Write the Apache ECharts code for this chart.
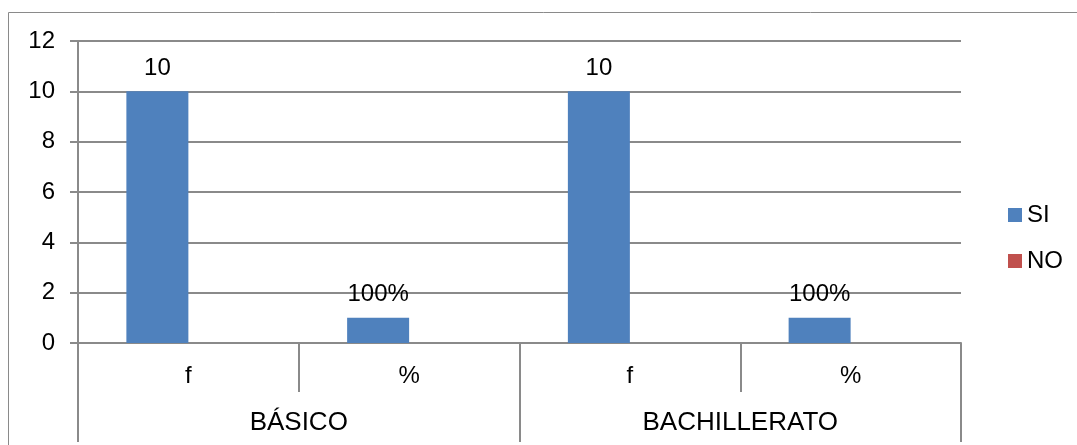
<!DOCTYPE html>
<html>
<head>
<meta charset="utf-8">
<script src="https://cdn.jsdelivr.net/npm/echarts@6/dist/echarts.min.js"></script>
<style>
html,body{margin:0;padding:0;background:#fff;}
#c{width:1077px;height:445px;}
</style>
</head>
<body>
<div id="c"></div>
<script>
var subCategories = ['f', '%', 'f', '%'];
var groupCategories = ['BÁSICO', 'BACHILLERATO'];
var seriesNames = ['SI', 'NO'];
var valuesSI = [10, 1, 10, 1];
var valuesNO = [0, 0, 0, 0];
var labelsSI = ['10', '100%', '10', '100%'];
var yTicks = [0, 2, 4, 6, 8, 10, 12];

var FONT = "'Liberation Sans', Arial, sans-serif";
var FS = 24;
var GRAY = '#8a8a8a';
var chart = echarts.init(document.getElementById('c'), null, {renderer: 'canvas'});
chart.setOption({
  animation: false,
  backgroundColor: '#fff',
  textStyle: {fontFamily: FONT},
  graphic: [{
    type: 'rect', z: 0,
    shape: {x: 8.5, y: 12.5, width: 1200, height: 600},
    style: {fill: 'none', stroke: GRAY, lineWidth: 1}
  }],
  grid: {left: 78, right: 116, top: 41, bottom: 102, containLabel: false},
  legend: {
    orient: 'vertical', left: 1003, top: 198,
    itemWidth: 14, itemHeight: 14, itemGap: 22,
    icon: 'rect',
    textStyle: {fontSize: FS, color: '#000', fontFamily: FONT},
    data: seriesNames
  },
  xAxis: [{
    type: 'category', data: subCategories, position: 'bottom',
    axisLine: {show: true, lineStyle: {color: GRAY, width: 2}},
    axisTick: {show: true, length: 49, interval: 0, lineStyle: {color: GRAY, width: 2}},
    axisLabel: {fontSize: FS, color: '#000', margin: 21, interval: 0, fontFamily: FONT},
    splitLine: {show: false}
  }, {
    type: 'category', data: groupCategories, position: 'bottom', offset: 49,
    axisLine: {show: false},
    axisTick: {show: true, length: 50, interval: 0, lineStyle: {color: GRAY, width: 2}},
    axisLabel: {fontSize: 26, color: '#000', margin: 18, interval: 0, fontFamily: FONT},
    splitLine: {show: false}
  }],
  yAxis: {
    type: 'value', min: yTicks[0], max: yTicks[yTicks.length - 1], interval: 2,
    axisLine: {show: true, lineStyle: {color: GRAY, width: 2}},
    axisTick: {show: true, length: 8, lineStyle: {color: GRAY, width: 2}},
    axisLabel: {fontSize: FS, color: '#000', margin: 23, fontFamily: FONT},
    splitLine: {show: true, lineStyle: {color: GRAY, width: 2}}
  },
  series: [{
    name: seriesNames[0], type: 'bar', xAxisIndex: 0, data: valuesSI,
    barWidth: 62, barGap: '0%',
    itemStyle: {color: '#4F81BD'},
    label: {
      show: true, position: 'top', distance: 11, fontSize: FS, color: '#000', fontFamily: FONT,
      formatter: function (p) { return labelsSI[p.dataIndex]; }
    }
  }, {
    name: seriesNames[1], type: 'bar', xAxisIndex: 0, data: valuesNO,
    barWidth: 62, barGap: '0%',
    itemStyle: {color: '#C0504D'}
  }]
});
</script>
</body>
</html>
